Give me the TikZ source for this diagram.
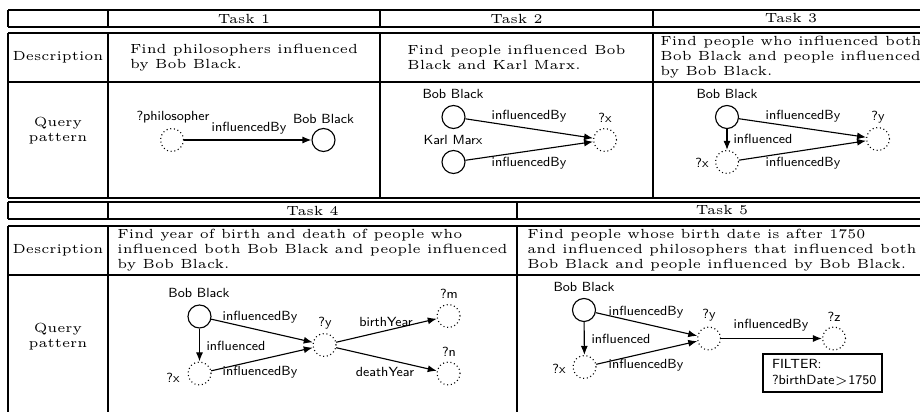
\documentclass[tikz,border=0pt]{standalone}
\usetikzlibrary{arrows.meta}
\begin{document}
\begin{tikzpicture}[x=0.4pt,y=-0.4pt,
  tab/.style={line width=0.5pt},
  serif/.style={font=\fontsize{5.3}{6}\selectfont, inner sep=0pt},
  lab/.style={font=\sffamily\fontsize{5.3}{6.4}\selectfont, inner sep=0pt},
  ent/.style={circle, draw, line width=0.45pt, minimum size=9.2pt, inner sep=0pt},
  var/.style={circle, draw, dash pattern=on 0.4pt off 1.1pt, line width=0.45pt, minimum size=9.2pt, inner sep=0pt},
  arr/.style={-{Latex[length=3.6pt,width=2.8pt]}, line width=0.45pt},
  fbox/.style={draw, line width=0.5pt, font=\sffamily\fontsize{5.3}{6.4}\selectfont,
    align=left, text width=40.4pt, inner xsep=3.6pt, inner ysep=0pt, minimum height=15.2pt}
]
\useasboundingbox (0,0) rectangle (920,412);
\clip (0,0) rectangle (920,412);
\fill[white] (0,0) rectangle (920,412);

% ---------- top table ----------
\draw[tab] (8,10) -- (940,10) (8,27) -- (940,27);
\foreach \x in {8,108,380,653} \draw[tab] (\x,10) -- (\x,27);
\draw[tab] (8,33) -- (940,33) (8,82) -- (940,82) (8,198) -- (940,198);
\foreach \x in {8,108,380,653} \draw[tab] (\x,33) -- (\x,198);

\node[serif] (t1) at (244,18.5) {Task 1};
\node[serif] (t2) at (516.5,18.5) {Task 2};
\node[serif] (t3) at (791,18.5) {Task 3};
\node[serif] (desc1) at (58,57.5) {Description};
\node[serif, align=left] (d1) at (244,57.5) {Find philosophers influenced\\by Bob Black.};
\node[serif, align=left] (d2) at (516.5,57.5) {Find people influenced Bob\\Black and Karl Marx.};
\node[serif, align=left] (d3) at (791,57.5) {Find people who influenced both\\Bob Black and people influenced\\by Bob Black.};
\node[serif, align=center] (q1) at (58,131) {Query\\pattern};

% ---------- bottom table ----------
\draw[tab] (8,202) -- (940,202) (8,219) -- (940,219);
\foreach \x in {8,108,517} \draw[tab] (\x,202) -- (\x,219);
\draw[tab] (8,226) -- (940,226) (8,275) -- (940,275);
\foreach \x in {8,108,517} \draw[tab] (\x,226) -- (\x,430);

\node[serif] (t4) at (312.5,210.5) {Task 4};
\node[serif] (t5) at (722,210.5) {Task 5};
\node[serif] (desc2) at (58,250.5) {Description};
\node[serif, align=left] (d4) at (312.5,250.5) {Find year of birth and death of people who\\influenced both Bob Black and people influenced\\by Bob Black.};
\node[serif, align=left] (d5) at (722,250.5) {Find people whose birth date is after 1750\\and influenced philosophers that influenced both\\Bob Black and people influenced by Bob Black.};
\node[serif, align=center] (q2) at (58,336.5) {Query\\pattern};

% ---------- Task 1 ----------
\node[var] (p1) at (172,140) {};
\node[ent] (b1) at (323.5,140) {};
\node[lab] (p1l) at (173,117) {?philosopher};
\node[lab] (b1l) at (323.5,119) {Bob Black};
\draw[arr] (p1) -- (b1) node[lab] at (249,128) {influencedBy};

% ---------- Task 2 ----------
\node[ent] (b2) at (453.5,117) {};
\node[ent] (k2) at (453.5,162) {};
\node[var] (x2) at (605,140) {};
\node[lab] (b2l) at (453,94) {Bob Black};
\node[lab] (k2l) at (453,140) {Karl Marx};
\node[lab] (x2l) at (605,118) {?x};
\draw[arr] (b2) -- (x2) node[lab] at (529,116) {influencedBy};
\draw[arr] (k2) -- (x2) node[lab] at (529,163) {influencedBy};

% ---------- Task 3 ----------
\node[ent] (b3) at (727,117) {};
\node[var] (x3) at (727,162) {};
\node[var] (y3) at (878,139) {};
\node[lab] (b3l) at (727,94) {Bob Black};
\node[lab] (x3l) at (702,163) {?x};
\node[lab] (y3l) at (878,117) {?y};
\draw[arr] (b3) -- (x3) node[lab, anchor=west] at (733,139) {influenced};
\draw[arr] (b3) -- (y3) node[lab] at (803,116) {influencedBy};
\draw[arr] (x3) -- (y3) node[lab] at (803,163) {influencedBy};

% ---------- Task 4 ----------
\node[ent] (b4) at (199.5,316.5) {};
\node[var] (x4) at (199.5,373.5) {};
\node[var] (y4) at (324.5,345) {};
\node[var] (m4) at (448.5,316) {};
\node[var] (n4) at (448.5,373.5) {};
\node[lab] (b4l) at (199,293) {Bob Black};
\node[lab] (x4l) at (173,378) {?x};
\node[lab] (y4l) at (325,323) {?y};
\node[lab] (m4l) at (449,294) {?m};
\node[lab] (n4l) at (449,352) {?n};
\draw[arr] (b4) -- (x4) node[lab, anchor=west] at (206,346) {influenced};
\draw[arr] (b4) -- (y4) node[lab] at (260,317) {influencedBy};
\draw[arr] (x4) -- (y4) node[lab] at (260,372) {influencedBy};
\draw[arr] (y4) -- (m4) node[lab] at (386,322) {birthYear};
\draw[arr] (y4) -- (n4) node[lab] at (385,372) {deathYear};

% ---------- Task 5 ----------
\node[ent] (b5) at (584,310) {};
\node[var] (x5) at (584.5,367) {};
\node[var] (y5) at (709,338.5) {};
\node[var] (z5) at (834,338.5) {};
\node[lab] (b5l) at (584,287) {Bob Black};
\node[lab] (x5l) at (559,369) {?x};
\node[lab] (y5l) at (709,315) {?y};
\node[lab] (z5l) at (834,317) {?z};
\draw[arr] (b5) -- (x5) node[lab, anchor=west] at (591,339) {influenced};
\draw[arr] (b5) -- (y5) node[lab] at (646,312) {influencedBy};
\draw[arr] (x5) -- (y5) node[lab] at (646,365) {influencedBy};
\draw[arr] (y5) -- (z5) node[lab] at (771,325) {influencedBy};
\node[fbox] (f5) at (822.5,373) {FILTER:\\?birthDate$>$1750};
\end{tikzpicture}
\end{document}
